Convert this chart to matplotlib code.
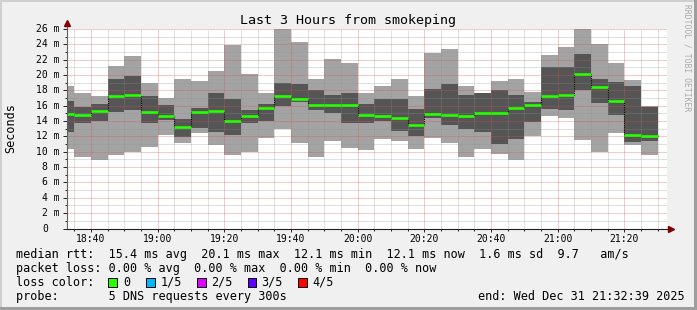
import matplotlib
matplotlib.use("Agg")
import matplotlib.pyplot as plt
import matplotlib.dates as mdates
from matplotlib.patches import Rectangle
from matplotlib.ticker import MultipleLocator
import pandas as pd

W, H = 697, 310

# sorted rtt of the 5 pings in each 300s step (ms)
rtt_min = [10.4, 9.35, 8.95, 9.6, 10.0, 10.65, 12.15, 11.2, 12.5, 10.9,
           9.6, 9.97, 11.8, 12.95, 11.15, 9.35, 11.45, 10.5, 10.25, 11.65,
           11.4, 10.35, 11.85, 11.15, 9.35, 10.3, 9.75, 8.9, 12.06, 14.7,
           14.45, 11.54, 9.97, 12.45, 10.9, 9.6]
rtt_low = [12.6, 13.7, 14.0, 15.2, 15.45, 13.8, 14.2, 11.95, 13.15, 12.6,
           12.2, 13.7, 14.0, 15.9, 16.45, 15.5, 15.1, 13.8, 13.7, 14.0,
           12.7, 12.1, 14.4, 13.55, 13.0, 12.6, 11.0, 11.67, 13.9, 15.6,
           15.45, 18.07, 16.37, 14.75, 11.3, 11.4]
rtt_median = [14.9, 14.8, 15.3, 17.3, 17.45, 15.2, 14.7, 13.2, 15.15, 15.25,
              14.0, 14.7, 15.65, 17.3, 16.85, 16.07, 16.07, 16.07, 14.85, 14.7,
              14.45, 13.45, 14.9, 14.8, 14.7, 15.07, 15.07, 15.7, 16.07, 17.33,
              17.45, 20.15, 18.42, 16.63, 12.2, 12.1]
rtt_high = [16.6, 15.85, 16.25, 19.5, 19.9, 17.3, 16.1, 14.25, 15.75, 17.7,
            16.9, 15.45, 16.25, 19.0, 18.8, 18.07, 17.4, 17.7, 16.25, 16.9,
            16.9, 15.55, 18.2, 18.85, 17.4, 17.6, 18.07, 17.4, 16.45, 21.0,
            21.07, 22.8, 19.5, 19.1, 18.6, 15.85]
rtt_max = [18.6, 17.7, 17.3, 21.2, 22.5, 19.0, 17.07, 19.5, 19.25, 20.55,
           23.95, 20.1, 17.6, 26.0, 24.35, 19.5, 22.1, 21.6, 17.7, 18.6,
           19.5, 17.3, 22.9, 23.4, 18.6, 17.7, 19.25, 19.5, 17.85, 22.65,
           23.7, 26.0, 24.1, 21.6, 19.37, 15.9]

graph_start = pd.Timestamp("2025-12-31 18:32:39")
graph_end = pd.Timestamp("2025-12-31 21:32:39")
step_times = pd.date_range("2025-12-31 18:35", "2025-12-31 21:30", freq="5min")

y_ticks = list(range(0, 27, 2))
y_tick_labels = ["0"] + [f"{v} m" for v in y_ticks[1:]]

legend_rows = [
    "median rtt:  15.4 ms avg  20.1 ms max  12.1 ms min  12.1 ms now  1.6 ms sd  9.7   am/s",
    "packet loss: 0.00 % avg  0.00 % max  0.00 % min  0.00 % now",
    "loss color:",
    "probe:       5 DNS requests every 300s",
]
loss_labels = ["0", "1/5", "2/5", "3/5", "4/5"]
loss_colors = ["#26ff00", "#00b8ff", "#dc00ff", "#6200ff", "#ff0000"]
loss_box_x = [108, 146, 197, 247.5, 298]
loss_text_x = [123, 160.5, 211, 261.5, 312]
end_text = "end: Wed Dec 31 21:32:39 2025"


def fx(px):
    return px / W


def fy(py):
    return 1 - py / H


plt.rcParams["font.family"] = "DejaVu Sans Mono"

fig = plt.figure(figsize=(W / 100, H / 100), dpi=100, facecolor="#f0f0f0")

# rrdtool style 3d frame
for x, y, w, h, c in [(0, 0, W, 2, "#cfcfcf"), (0, 0, 2, H, "#cfcfcf"),
                      (0, H - 3, W, 3, "#9e9e9e"), (W - 3, 0, 3, H, "#9e9e9e")]:
    fig.patches.append(Rectangle((fx(x), fy(y + h)), w / W, h / H,
                                 transform=fig.transFigure, color=c, lw=0))

ax = fig.add_axes([fx(66.5), fy(228.5), 600 / W, 199.5 / H])
ax.set_facecolor("white")

edges = mdates.date2num([graph_start] + list(step_times))

# smoke: outer band (min..max) and inner band (2nd..4th ping)
ax.stairs(rtt_max, edges, baseline=rtt_min, fill=True, color="#a3a3a3", lw=0, zorder=1)
ax.stairs(rtt_high, edges, baseline=rtt_low, fill=True, color="#555555", lw=0, zorder=1.1)
ax.stairs(rtt_median, edges, baseline=None, color="black", lw=0.8,
          linestyle=(0, (1, 1)), zorder=2.8)
ax.hlines(rtt_median, edges[:-1], edges[1:], colors=loss_colors[0], lw=1.9, zorder=3)

ax.xaxis_date()
ax.set_xlim(mdates.date2num(graph_start), mdates.date2num(graph_end))
ax.set_ylim(0, 26)

ax.xaxis.set_major_locator(mdates.MinuteLocator(byminute=[0, 20, 40]))
ax.xaxis.set_minor_locator(mdates.MinuteLocator(byminute=range(0, 60, 5)))
ax.xaxis.set_major_formatter(mdates.DateFormatter("%H:%M"))
ax.set_yticks(y_ticks)
ax.yaxis.set_minor_locator(MultipleLocator(1))

ax.set_axisbelow(False)
ax.grid(which="minor", color="#8f8f8f", alpha=0.55, lw=0.72, linestyle=(0, (1, 1)))
ax.grid(which="major", color="#de5050", alpha=0.6, lw=0.72, linestyle=(0, (1, 1)))

ax.tick_params(axis="x", which="major", length=2.5, width=0.7, pad=1.5,
               labelsize=7, color="#202020")
ax.tick_params(axis="x", which="minor", length=1.5, width=0.7, color="#202020")
ax.tick_params(axis="y", which="major", length=3, width=0.7, color="#202020",
               labelleft=False)
ax.tick_params(axis="y", which="minor", length=1.5, width=0.7, color="#202020")

for s in ["top", "right", "left", "bottom"]:
    ax.spines[s].set_visible(False)

# axis lines with arrows
ax.plot([0, 0], [0, 1 + 4 / 199.5], transform=ax.transAxes, color="#606060",
        lw=0.8, clip_on=False, zorder=4)
ax.plot([0, 1 + 2 / 600], [0, 0], transform=ax.transAxes, color="#202020",
        lw=0.8, clip_on=False, zorder=4)
ax.plot([0], [1 + 6 / 199.5], marker="^", ms=4, color="#7f0000",
        transform=ax.transAxes, clip_on=False, zorder=5)
ax.plot([1 + 4.5 / 600], [0], marker=">", ms=4, color="#7f0000",
        transform=ax.transAxes, clip_on=False, zorder=5)

# y tick labels, rrdtool keeps the unit column so "0" sits one column in
for v, lab in zip(y_ticks, y_tick_labels):
    off = -5 if v else -5 - 2 * 4.2
    ax.annotate(lab, xy=(0, v), xycoords=("axes fraction", "data"),
                xytext=(off, 0), textcoords="offset points",
                ha="right", va="center", fontsize=7)

fig.text(fx(348.5), fy(24), "Last 3 Hours from smokeping", ha="center",
         va="baseline", fontsize=9.6)
fig.text(fx(14.3), fy(128.5), "Seconds", rotation=90, rotation_mode="anchor",
         ha="center", va="baseline", fontsize=8.47)
fig.text(fx(687), fy(4), "RRDTOOL / TOBI OETIKER", rotation=270, ha="center",
         va="top", fontsize=5.8, color="#aaaaaa")

baselines = [258.3, 272.1, 285.9, 299.7]
for row, b in zip(legend_rows, baselines):
    fig.text(fx(16), fy(b), row, fontsize=8.47, va="baseline")

for bx, tx, lab, c in zip(loss_box_x, loss_text_x, loss_labels, loss_colors):
    fig.patches.append(Rectangle((fx(bx), fy(286.7)), 8.5 / W, 8.5 / H,
                                 transform=fig.transFigure, facecolor=c,
                                 edgecolor="black", lw=0.7))
    fig.text(fx(tx), fy(baselines[2]), lab, fontsize=8.47, va="baseline")

fig.text(fx(478.3), fy(baselines[3]), end_text, fontsize=8.47, va="baseline")

fig.savefig("out.png", dpi=100, facecolor=fig.get_facecolor())
